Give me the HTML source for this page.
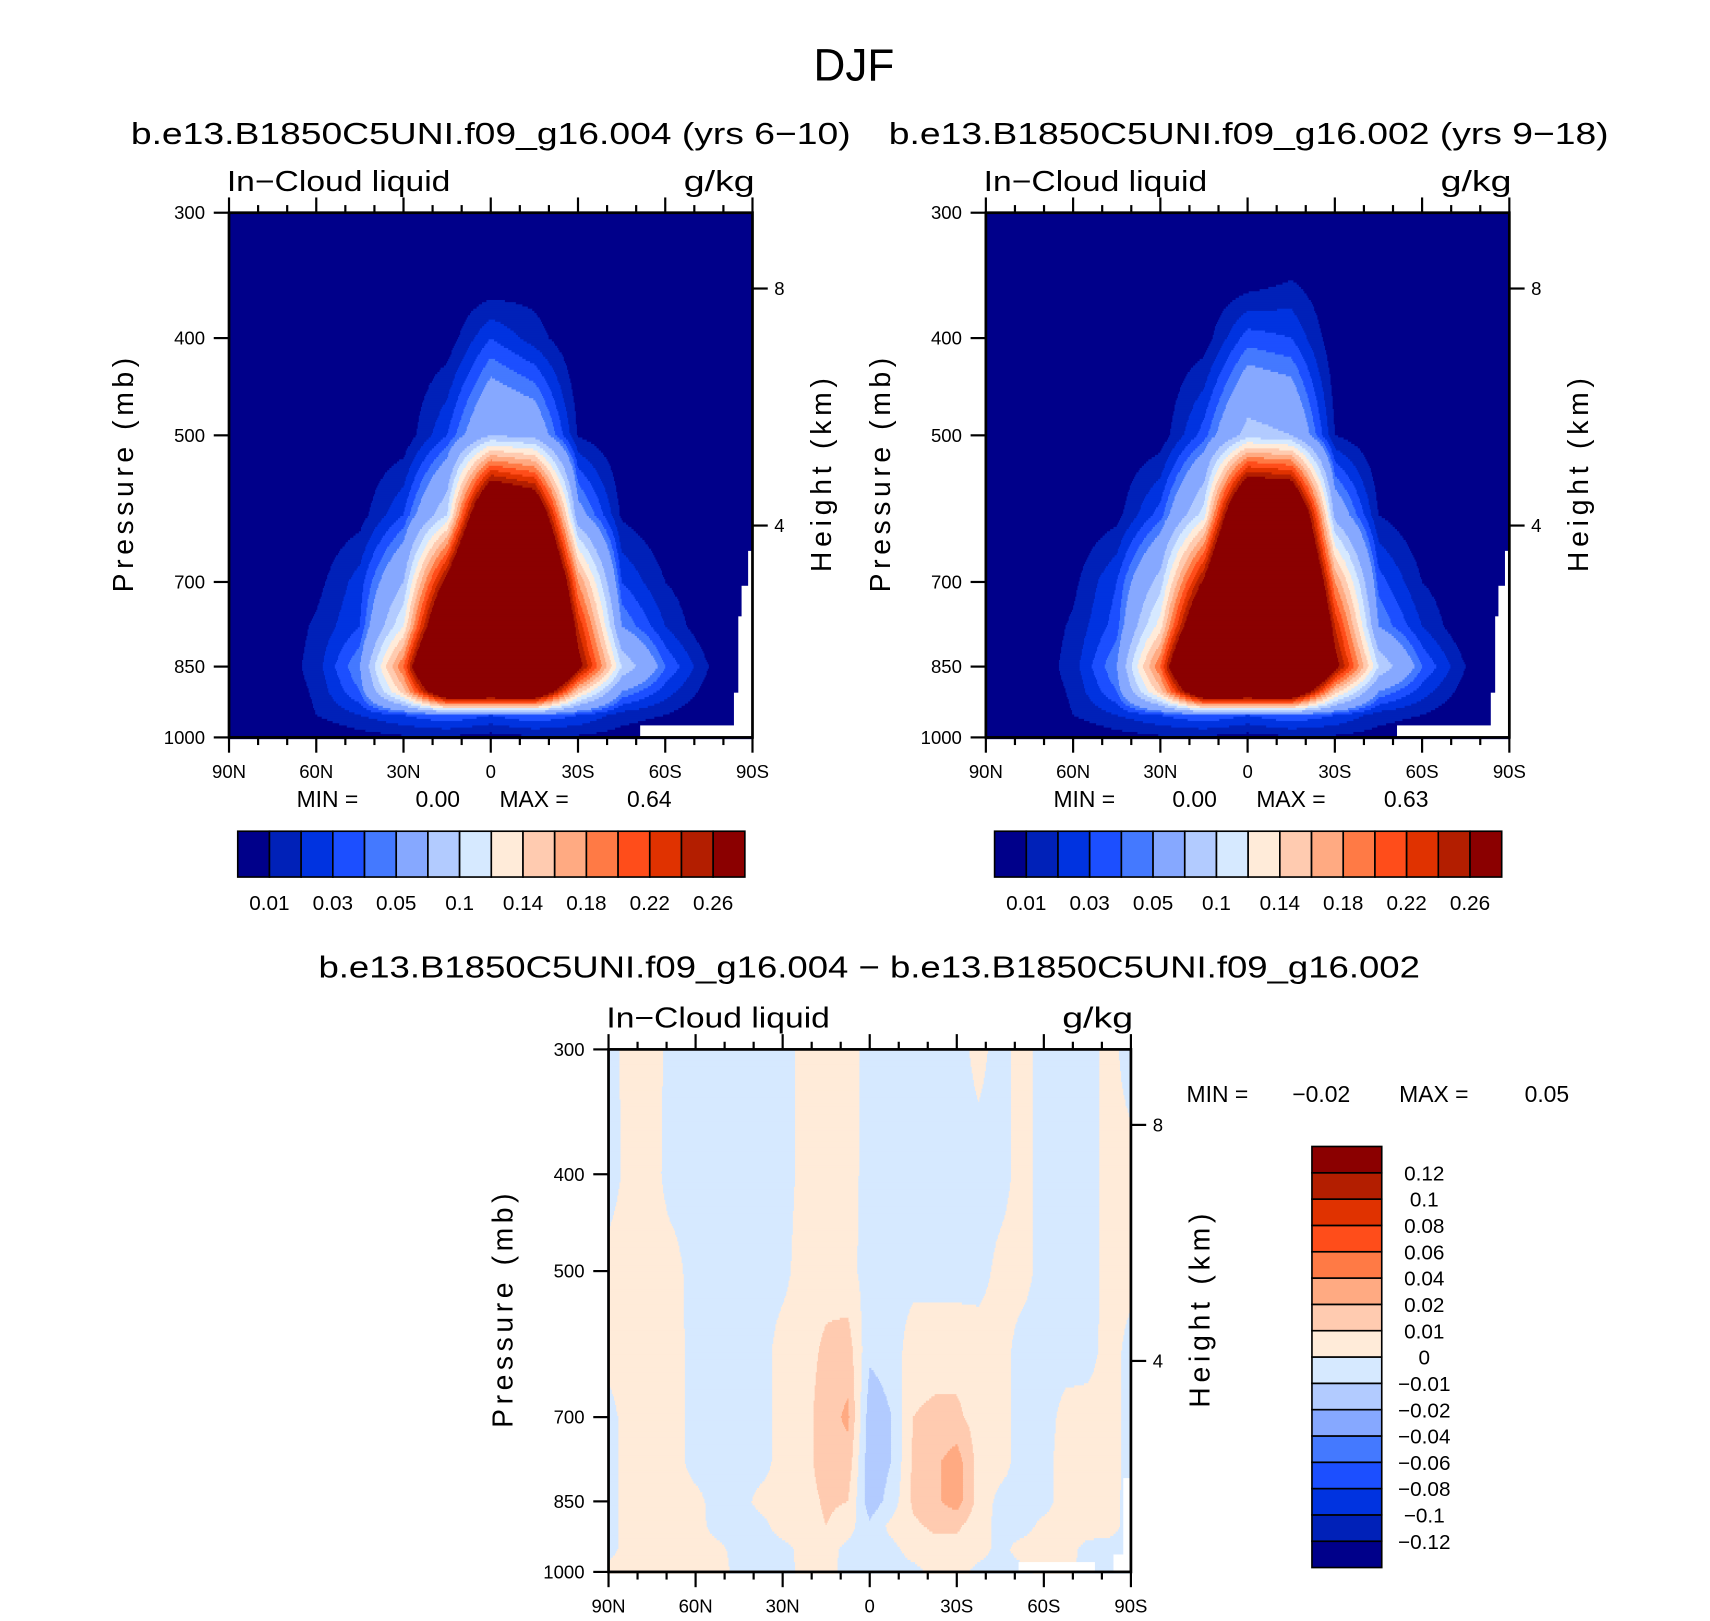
<!DOCTYPE html>
<html><head><meta charset="utf-8"><style>
html,body{margin:0;padding:0;background:#fff;}
svg{display:block;font-family:"Liberation Sans",sans-serif;}
</style></head><body>
<svg id="root" width="1710" height="1621" viewBox="0 0 1568 1486" preserveAspectRatio="none" xmlns="http://www.w3.org/2000/svg">
<rect width="1568" height="1486" fill="#fff"/>
<text x="746" y="74" font-size="42" textLength="74" lengthAdjust="spacingAndGlyphs">DJF</text>
<g id="g1"></g><g id="g2"></g><g id="g3"></g>
</svg>
<script>
// ---------- data ----------
const lats13 = [90,75,60,45,30,15,0,-15,-30,-45,-60,-75,-90];
const lats25 = [90,82.5,75,67.5,60,52.5,45,37.5,30,22.5,15,7.5,0,-7.5,-15,-22.5,-30,-37.5,-45,-52.5,-60,-67.5,-75,-82.5,-90];
const levsP = [300,350,400,500,600,700,775,850,900,950,1000];
const levsD = [300,400,500,600,700,775,850,900,950,1000];
const field1 = [
[0,0,0,0,0,0,0,0,0,0,0,0,0],
[0,0,0,0,0,0,0,0.004,0,0,0,0,0],
[0,0,0,0,0,0.003,0.03,0.015,0,0,0,0,0],
[0,0,0,0,0.002,0.03,0.08,0.07,0.009,0,0,0,0],
[0,0,0,0.005,0.03,0.1,0.4,0.35,0.06,0.008,0,0,0],
[0,0,0.006,0.025,0.08,0.28,0.55,0.5,0.18,0.03,0.01,0,0],
[0,0,0.012,0.03,0.12,0.38,0.6,0.55,0.24,0.05,0.02,0,0],
[0,0,0.015,0.05,0.2,0.5,0.6,0.55,0.28,0.1,0.04,0.01,0],
[0,0,0.012,0.04,0.15,0.35,0.35,0.35,0.15,0.05,0.025,0.005,0],
[0,0,0.01,0.02,0.03,0.04,0.03,0.04,0.03,0.015,0.01,0,0],
[0,0,0,0.005,0.008,0.008,0.005,0.008,0.008,0.005,0,0,0]];
const field2 = [
[0,0,0,0,0,0,0,0,0,0,0,0,0],
[0,0,0,0,0,0,0.003,0.01,0,0,0,0,0],
[0,0,0,0,0,0.004,0.035,0.03,0.002,0,0,0,0],
[0,0,0,0,0.003,0.035,0.09,0.08,0.01,0,0,0,0],
[0,0,0,0.006,0.035,0.11,0.42,0.4,0.07,0.01,0,0,0],
[0,0,0.007,0.03,0.09,0.27,0.55,0.5,0.18,0.035,0.01,0,0],
[0,0,0.012,0.035,0.13,0.37,0.6,0.55,0.24,0.05,0.02,0,0],
[0,0,0.015,0.05,0.2,0.5,0.6,0.55,0.28,0.1,0.04,0.01,0],
[0,0,0.012,0.04,0.15,0.35,0.35,0.35,0.15,0.05,0.025,0.005,0],
[0,0,0.01,0.02,0.03,0.04,0.03,0.04,0.03,0.015,0.01,0,0],
[0,0,0,0.005,0.008,0.008,0.005,0.008,0.008,0.005,0,0,0]];
const fieldD = [
[-.004,.004,.004,-.004,-.004,-.004,-.004,-.004,-.004,.003,.005,.004,-.004,-.004,-.004,-.004,-.004,.003,-.004,.004,-.004,-.004,-.004,.003,-.004],
[-.004,.003,.003,-.004,-.004,-.004,-.004,-.004,-.004,.003,.005,.004,-.004,-.004,-.004,-.004,-.004,-.004,-.004,.004,-.004,-.004,-.004,.003,.003],
[.003,.004,.003,.003,-.004,-.004,-.004,-.004,-.003,.005,.006,.003,-.004,-.004,-.004,-.004,-.004,-.004,.003,.004,-.004,-.004,-.004,.003,.003],
[.003,.004,.004,.004,-.004,-.004,-.004,-.004,.004,.006,.012,.015,-.008,-.006,.006,.006,.006,.005,.004,-.004,-.004,-.004,-.004,.004,-.003],
[-.003,.004,.004,.004,-.004,-.004,-.004,-.004,.004,.006,.016,.022,-.016,-.01,.01,.012,.012,.006,.004,-.004,-.004,.003,.004,.004,-.003],
[-.003,.004,.004,.004,-.004,-.004,-.004,-.004,.004,.006,.016,.016,-.017,-.01,.012,.018,.025,.006,.004,-.004,-.004,.005,.005,.004,-.003],
[-.003,.004,.004,.004,.003,-.004,-.004,.003,.004,.005,.012,.01,-.016,-.006,.012,.018,.025,.006,-.003,-.004,-.004,.005,.005,.003,-.003],
[-.003,.004,.004,.004,.004,-.004,-.004,-.003,.004,.004,.01,.004,-.008,.003,.008,.012,.012,.004,-.003,-.004,.003,.004,.004,.003,-.003],
[-.003,.004,.004,.004,.004,.003,-.004,-.004,-.003,.003,.004,-.003,-.004,-.003,.004,.006,.006,.004,-.003,.004,.004,.004,-.003,-.003,-.003],
[.003,.004,.004,.004,.004,.004,-.003,-.004,-.004,.003,.003,-.003,-.004,-.004,-.003,.003,.004,-.003,-.004,-.003,.003,.003,-.004,-.004,-.004]];
const levelsAbs = [0.01,0.02,0.03,0.04,0.05,0.08,0.1,0.12,0.14,0.16,0.18,0.2,0.22,0.24,0.26];
const levelsDiff = [-0.12,-0.1,-0.08,-0.06,-0.04,-0.02,-0.01,0,0.01,0.02,0.04,0.06,0.08,0.1,0.12];
const absLabels = ["0.01","0.03","0.05","0.1","0.14","0.18","0.22","0.26"];
const diffLabels = ["−0.12","−0.1","−0.08","−0.06","−0.04","−0.02","−0.01","0","0.01","0.02","0.04","0.06","0.08","0.1","0.12"];
const colors = ["#00008a","#0021b8","#0033e0","#1c4fff","#4479ff","#86a8ff","#b2cbff","#d6e9ff","#ffebd9","#ffcbb0","#ffaa82","#ff7a45","#ff4d1a","#e03200","#b31e00","#8b0000"];
const presTicks = [300,400,500,700,850,1000];
const latTicks = [90,60,30,0,-30,-60,-90];
const latTickLabels = ["90N","60N","30N","0","30S","60S","90S"];
const heightTicks = [8,4];
const heightTickPres = [357,615];

const NS="http://www.w3.org/2000/svg";
function mk(tag, attrs, parent){const e=document.createElementNS(NS,tag);for(const k in attrs)e.setAttribute(k,attrs[k]);parent.appendChild(e);return e;}
function txt(parent,x,y,s,size,anchor,name,extra){const t=mk('text',{x:x,y:y,'font-size':size,'text-anchor':anchor||'start'},parent);


if(extra)for(const k in extra)t.setAttribute(k,extra[k]);t.textContent=s;return t;}
function fitted(parent,x,y,s,size,len,name){return txt(parent,x,y,s,size,'start',name,{textLength:len,lengthAdjust:'spacingAndGlyphs'});}

function classify(v,levels){let i=0;while(i<levels.length&&v>=levels[i])i++;return i;}

function drawPanel(g, X0, Y0, W, H, lats, levs, field, levels, masks){
  const xOf = lat => X0 + (90-lat)/180*W;
  const yOf = p => Y0 + Math.log(p/300)/Math.log(1000/300)*H;
  const fg = mk('g',{},g);
  
  
  const step=2;
  for(let yy=0; yy<H; yy+=step){
    const p = 300*Math.exp((yy+step/2)/H*Math.log(1000/300));
    let r=0; while(r<levs.length-2 && p>levs[r+1]) r++;
    const ty = (Math.log(p)-Math.log(levs[r]))/(Math.log(levs[r+1])-Math.log(levs[r]));
    let runStart=0, runC=-1;
    for(let xx=0; xx<=W; xx++){
      let c=-2;
      if(xx<W){
        const lat = 90-(xx+0.5)/W*180;
        let ci=0; while(ci<lats.length-2 && lat<lats[ci+1]) ci++;
        const tx=(lats[ci]-lat)/(lats[ci]-lats[ci+1]);
        const v=(1-ty)*((1-tx)*field[r][ci]+tx*field[r][ci+1])+ty*((1-tx)*field[r+1][ci]+tx*field[r+1][ci+1]);
        c=classify(v,levels);
      }
      if(c!==runC){
        if(runC>=0){
          const rc=mk('rect',{x:X0+runStart,y:Y0+yy,width:xx-runStart+0.6,height:step+0.6,fill:colors[runC]},fg);
          
          
        }
        runStart=xx; runC=c;
      }
    }
  }
  masks.forEach(m=>{const r=mk('rect',{x:m[0],y:m[1],width:m[2],height:m[3],fill:'#fff'},g);
    
    });
  const f=mk('rect',{x:X0,y:Y0,width:W,height:H,fill:'none',stroke:'#000','stroke-width':2.5},g);
  
  
  const tg=mk('g',{stroke:'#000','stroke-width':2},g);
  
  
  for(let lat=90; lat>=-90; lat-=10){
    const major = lat%30===0; const L=major?14:7; const x=xOf(lat);
    mk('line',{x1:x,y1:Y0+H,x2:x,y2:Y0+H+L},tg);
    mk('line',{x1:x,y1:Y0,x2:x,y2:Y0-L},tg);
  }
  latTicks.forEach((lat,i)=>txt(g,xOf(lat),Y0+H+37,latTickLabels[i],17,'middle','x-tick-label'));
  presTicks.forEach(p=>{const y=yOf(p);mk('line',{x1:X0,y1:y,x2:X0-14,y2:y},tg);
    txt(g,X0-22,y+6,String(p),17,'end','y-tick-label');});
  heightTicks.forEach((h,i)=>{const y=yOf(heightTickPres[i]);mk('line',{x1:X0+W,y1:y,x2:X0+W+14,y2:y},tg);
    txt(g,X0+W+20,y+6,String(h),17,'start','height-tick-label');});
  fitted(g,X0-2,Y0-20,"In−Cloud liquid",26,205,'variable-label');
  fitted(g,X0+W-63,Y0-20,"g/kg",26,65,'units-label');
  txt(g,0,0,"Pressure (mb)",26,'middle','y-axis-title',{transform:`translate(${X0-88},${Y0+H/2}) rotate(-90)`,textLength:215,lengthAdjust:'spacing'});
  txt(g,0,0,"Height (km)",26,'middle','height-axis-title',{transform:`translate(${X0+W+72},${Y0+H/2}) rotate(-90)`,textLength:178,lengthAdjust:'spacing'});
}

function hColorbar(g,x,y,w,h){
  const n=colors.length, bw=w/n;
  const cb=mk('g',{},g);
  
  
  colors.forEach((c,i)=>{const r=mk('rect',{x:x+i*bw,y:y,width:bw,height:h,fill:c,stroke:'#000','stroke-width':1.5},cb);
    
    });
  absLabels.forEach((l,i)=>txt(cb,x+(1+2*i)*bw,y+h+30,l,19,'middle','colorbar-label'));
}

const g1=document.getElementById('g1');


fitted(g1,120,132,"b.e13.B1850C5UNI.f09_g16.004 (yrs 6−10)",28,660,'panel-title');
drawPanel(g1,210,195,480,481,lats13,levsP,field1,levelsAbs,[[587,665,103,12],[673,635,17,41],[677,565,13,111],[680,537,10,139],[686,505,4,171]]);
txt(g1,272,740,"MIN =",21,'start','min-label');txt(g1,381,740,"0.00",21,'start','min-value');
txt(g1,458,740,"MAX =",21,'start','max-label');txt(g1,575,740,"0.64",21,'start','max-value');
hColorbar(g1,218,762,465,42);

const g2=document.getElementById('g2');


fitted(g2,815,132,"b.e13.B1850C5UNI.f09_g16.002 (yrs 9−18)",28,660,'panel-title');
drawPanel(g2,904,195,480,481,lats13,levsP,field2,levelsAbs,[[1281,665,103,12],[1367,635,17,41],[1371,565,13,111],[1374,537,10,139],[1380,505,4,171]]);
txt(g2,966,740,"MIN =",21,'start','min-label');txt(g2,1075,740,"0.00",21,'start','min-value');
txt(g2,1152,740,"MAX =",21,'start','max-label');txt(g2,1269,740,"0.63",21,'start','max-value');
hColorbar(g2,912,762,465,42);

const g3=document.getElementById('g3');


fitted(g3,292,896,"b.e13.B1850C5UNI.f09_g16.004 − b.e13.B1850C5UNI.f09_g16.002",28,1010,'panel-title');
drawPanel(g3,558,962,479,479,lats25,levsD,fieldD,levelsDiff,[[934,1432,70,9],[1030,1355,7,86],[1021,1425,16,16]]);
txt(g3,1088,1010,"MIN =",21,'start','min-label');txt(g3,1185,1010,"−0.02",21,'start','min-value');
txt(g3,1283,1010,"MAX =",21,'start','max-label');txt(g3,1398,1010,"0.05",21,'start','max-value');
(function(){
  const x=1203,y=1051,w=64,h=386,n=colors.length,bh=h/n;
  const cb=mk('g',{},g3);
  
  
  colors.forEach((c,i)=>{const r=mk('rect',{x:x,y:y+(n-1-i)*bh,width:w,height:bh,fill:c,stroke:'#000','stroke-width':1.5},cb);
    
    });
  diffLabels.forEach((l,i)=>txt(cb,1306,y+(n-1-i)*bh+7,l,19,'middle','colorbar-label'));
})();
</script>
</body></html>
